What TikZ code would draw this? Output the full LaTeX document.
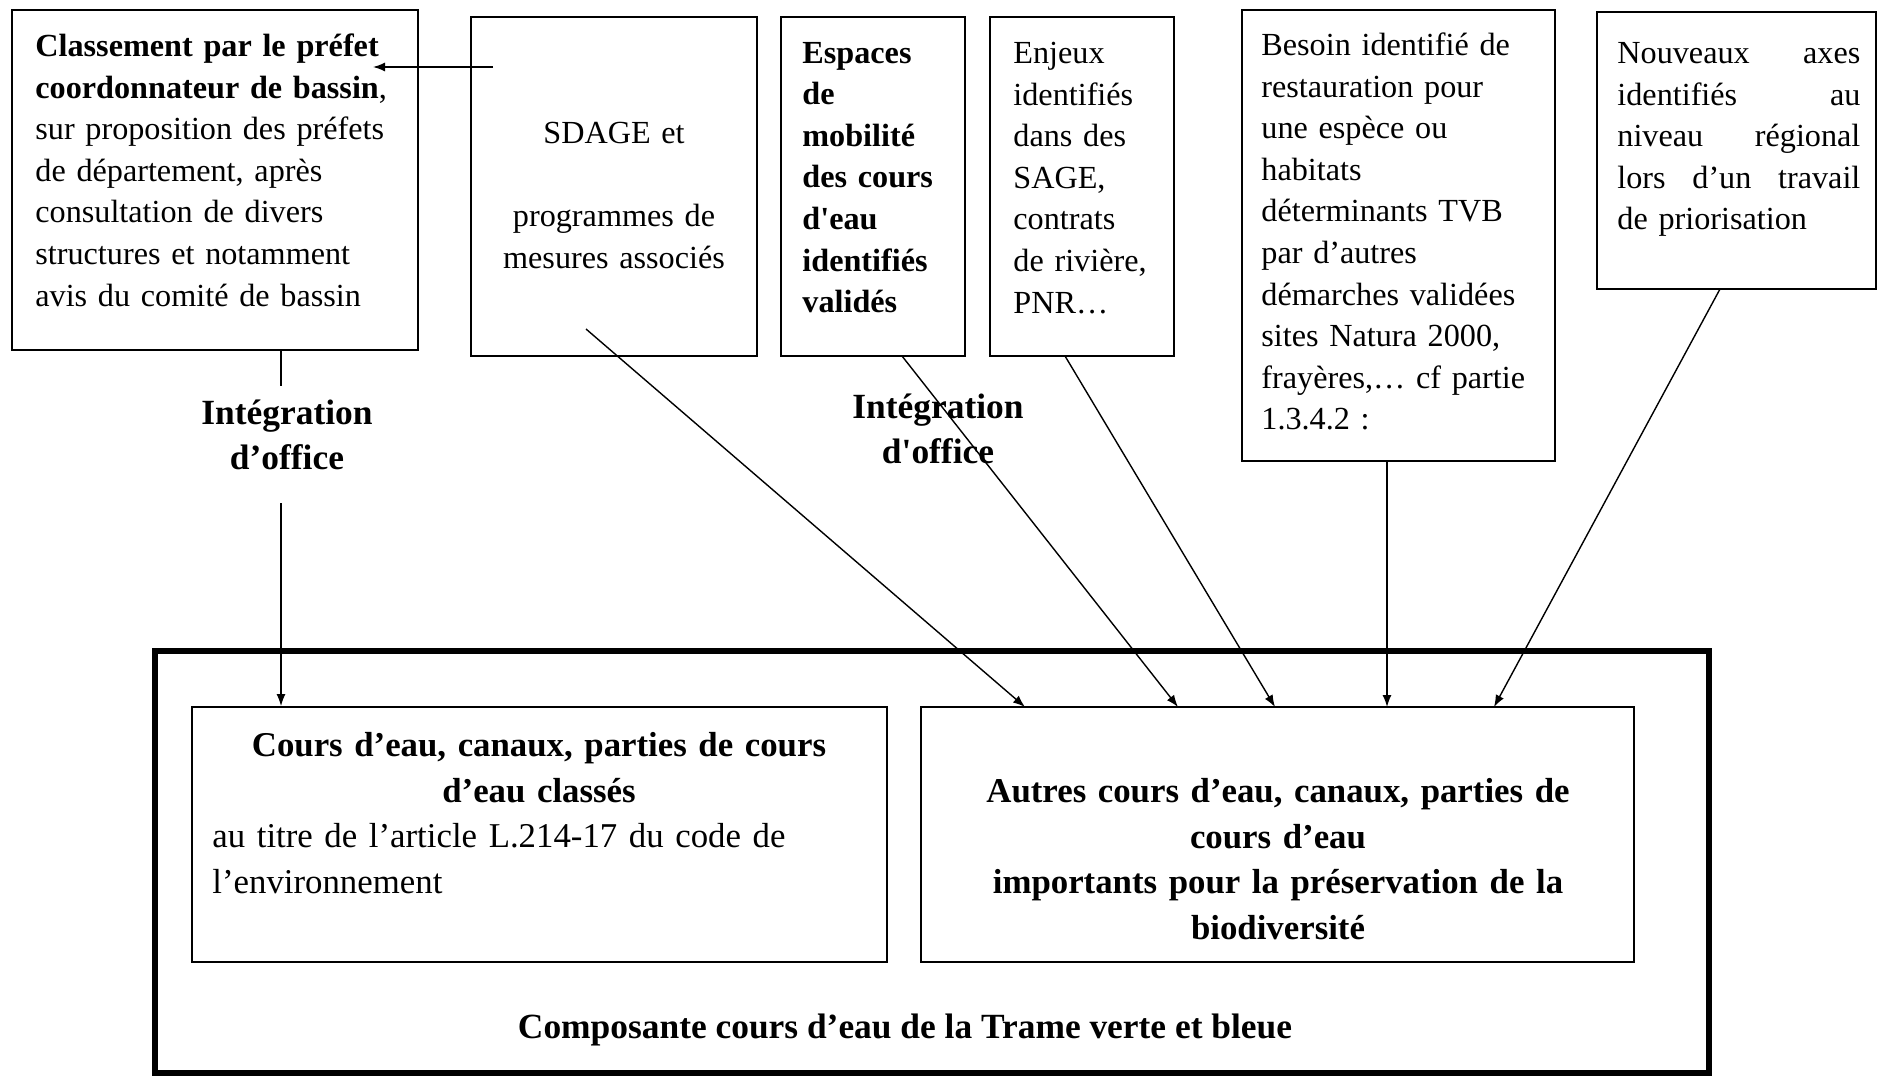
\documentclass[tikz,border=0pt]{standalone}
\usepackage{fontspec}
\setmainfont{Liberation Serif}
\usetikzlibrary{arrows.meta,fit}
\newcommand\ftop{\fontsize{16.1pt}{20.8pt}\selectfont}
\newcommand\fbot{\fontsize{17.4pt}{22.8pt}\selectfont}
\newcommand\flab{\fontsize{17.7pt}{22.3pt}\selectfont}
\begin{document}
\begin{tikzpicture}[x=0.5pt,y=-0.5pt,
 box/.style={draw, line width=1pt, inner sep=0pt},
 ibox/.style={draw, line width=0.9pt, inner sep=0pt},
 obox/.style={draw, line width=2.8pt, inner sep=0pt},
 txt/.style={inner sep=0pt, font=\ftop, align=left, anchor=base west},
 ctxt/.style={inner sep=0pt, font=\ftop, align=center, anchor=base},
 arr/.style={line width=0.7pt, -{Latex[length=6pt,width=4.5pt]}},
 ln/.style={line width=0.7pt}]
\useasboundingbox (0,0) rectangle (1878,1076);
\fill[white] (0,0) rectangle (1878,1076);
% boxes
\node[box, fit={(12,10) (418,350)}] (b1) {};
\node[box, fit={(471,17) (757,356)}] (b2) {};
\node[box, fit={(781,17) (965,356)}] (b3) {};
\node[box, fit={(990,17) (1174,356)}] (b4) {};
\node[box, fit={(1242,10) (1555,461)}] (b5) {};
\node[box, fit={(1597,12) (1876,289)}] (b6) {};
\node[obox, fit={(155,651) (1709,1073)}] (outer) {};
\node[ibox, fit={(192,707) (887,962)}] (bl) {};
\node[ibox, fit={(921,707) (1634,962)}] (br) {};
% texts
\node[txt, text width=190pt] (t1) at (35,56.5) {\textbf{Classement par le préfet}\\\textbf{coordonnateur de bassin},\\sur proposition des préfets\\de département, après\\consultation de divers\\structures et notamment\\avis du comité de bassin};
\node[ctxt, text width=130pt] (t2) at (614,143.5) {SDAGE et\\\mbox{}\\programmes de\\mesures associés};
\node[txt, font=\ftop\bfseries, text width=80pt] (t3) at (802,63) {Espaces\\de\\mobilité\\des cours\\d\textquotesingle eau\\identifiés\\validés};
\node[txt, text width=80pt] (t4) at (1013,63.5) {Enjeux\\identifiés\\dans des\\SAGE,\\contrats\\de rivière,\\PNR…};
\node[txt, text width=145pt] (t5) at (1261,55.5) {Besoin identifié de\\restauration pour\\une espèce ou\\habitats\\déterminants TVB\\par d'autres\\démarches validées\\sites Natura 2000,\\frayères,… cf partie\\1.3.4.2 :};
\node[txt, text width=121.5pt] (t6) at (1617,63.5) {Nouveaux\hfill axes\\identifiés\hfill au\\niveau\hfill régional\\lors\hfill d'un\hfill travail\\de priorisation};
\node[ctxt, font=\flab\bfseries, text width=100pt] (l1) at (287,424.5) {Intégration\\d’office};
\node[ctxt, font=\flab\bfseries, text width=100pt] (l2) at (938,418.5) {Intégration\\d\textquotesingle office};
\node[ctxt, font=\fbot\bfseries, text width=330pt] (t7a) at (539,756.5) {Cours d’eau, canaux, parties de cours\\d’eau classés};
\node[txt, font=\fbot, text width=330pt] (t7b) at (212,847.5) {au titre de l’article L.214-17 du code de\\l’environnement};
\node[ctxt, font=\fbot\bfseries, text width=345pt] (t8) at (1278,802.5) {Autres cours d’eau, canaux, parties de\\cours d’eau\\importants pour la préservation de la\\biodiversité};
\node[inner sep=0pt, font=\flab\bfseries, anchor=base] (t9) at (905,1038.5) {Composante cours d’eau de la Trame verte et bleue};
% connectors
\coordinate (s1) at (493,67); \coordinate (e1) at (373,67);
\draw[arr] (s1) -- (e1);
\coordinate (c1) at (281,386); \coordinate (c2) at (281,503);
\draw[ln] (b1.south -| c1) -- (c1);
\draw[arr] (c2) -- (c2 |- bl.north);
\coordinate (s2) at (586,329); \coordinate (e2) at (1025,707);
\draw[arr] (s2) -- (e2);
\coordinate (s3) at (902,356); \coordinate (e3) at (1178,707);
\draw[arr] (s3) -- (e3);
\coordinate (s4) at (1065,356); \coordinate (e4) at (1275,707);
\draw[arr] (s4) -- (e4);
\coordinate (s5) at (1387,461); \coordinate (e5) at (1387,707);
\draw[arr] (s5) -- (e5);
\coordinate (s6) at (1720,289); \coordinate (e6) at (1494,707);
\draw[arr] (s6) -- (e6);
\end{tikzpicture}
\end{document}
